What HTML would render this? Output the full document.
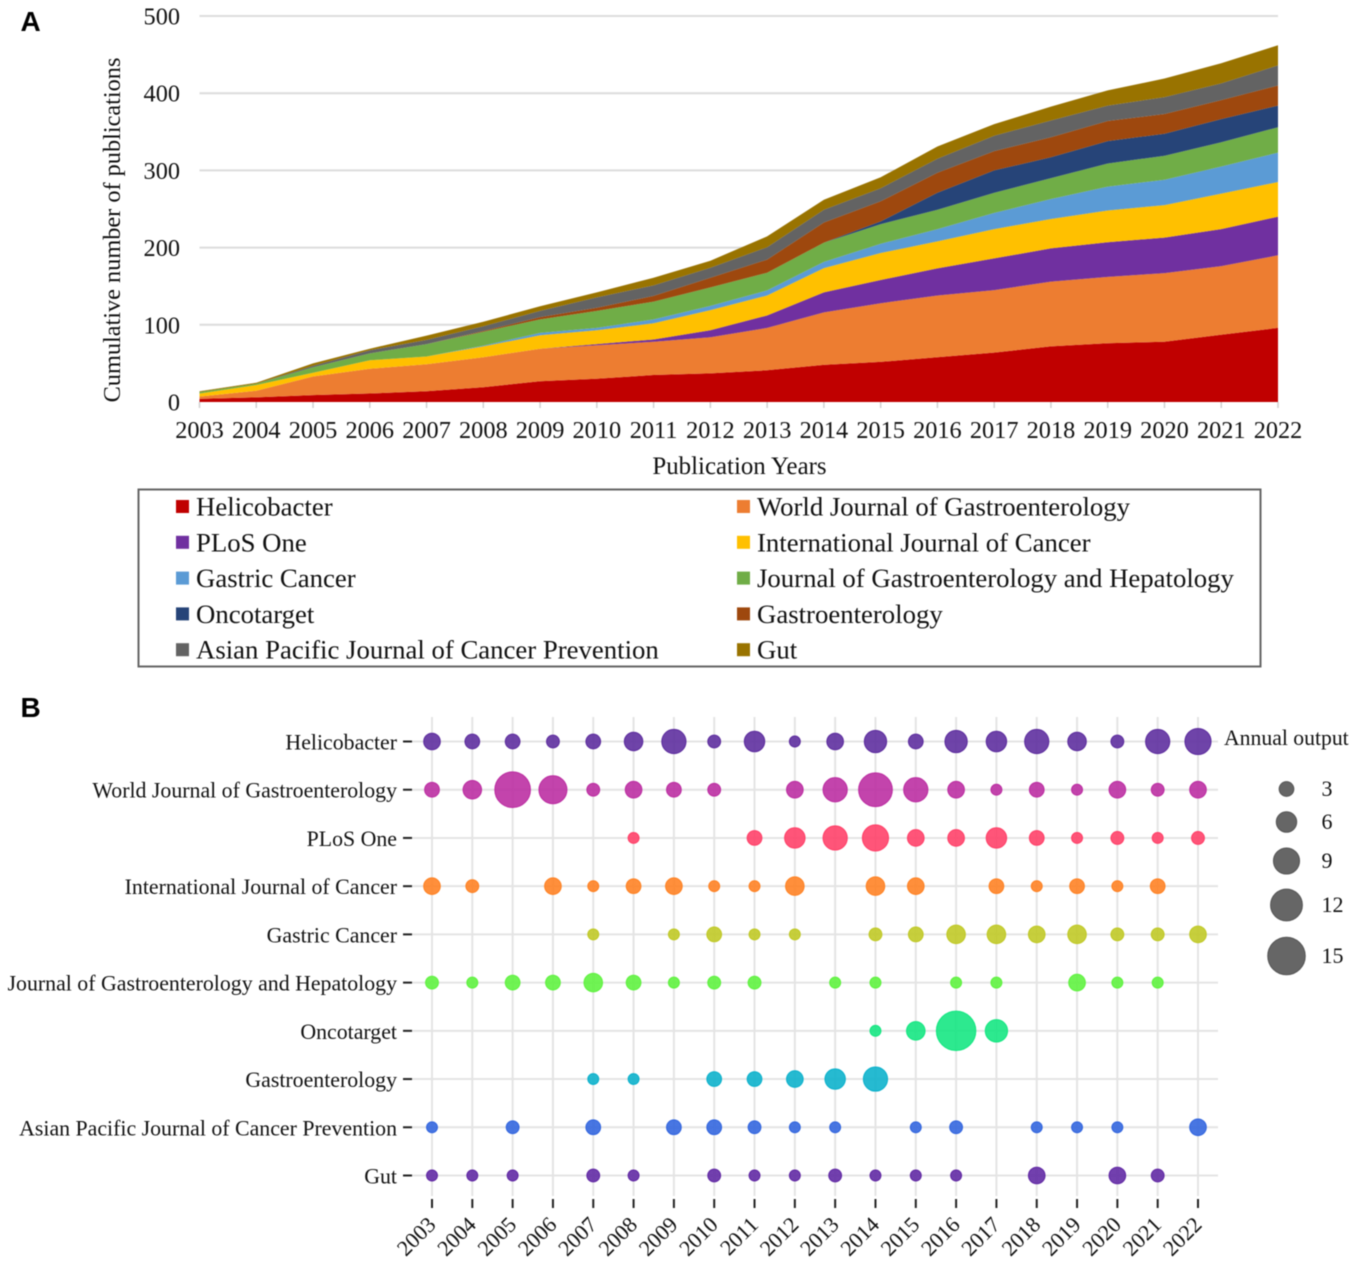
<!DOCTYPE html>
<html lang="en">
<head>
<meta charset="utf-8">
<title>Publications by journal</title>
<style>
html,body{margin:0;padding:0;background:#fff;overflow:hidden;}
svg{display:block;filter:blur(0.45px);}
text{font-family:"Liberation Serif",serif;fill:#111;}
.panel{font-family:"Liberation Sans",sans-serif;font-weight:bold;font-size:28px;fill:#000;}
</style>
</head>
<body>
<svg id="figure" width="1358" height="1266" viewBox="0 0 1358 1266" xmlns="http://www.w3.org/2000/svg">
  <text class="panel" x="20.5" y="31">A</text>
  <text class="panel" x="20.5" y="717">B</text>
  <text font-size="24.3" text-anchor="middle" transform="translate(120,230) rotate(-90)">Cumulative number of publications</text>
  <text font-size="24.9" text-anchor="middle" x="739.5" y="474">Publication Years</text>
  <rect x="138.5" y="489.5" width="1122" height="177" fill="#fff" stroke="#666" stroke-width="2"/>
  <text font-size="21.7" x="1224" y="745">Annual output</text>
  <g id="area-grid"></g>
  <g id="areas"></g>
  <g id="area-axis"></g>
  <g id="area-legend"></g>
  <g id="bubble-grid"></g>
  <g id="bubble-axis"></g>
  <g id="bubbles"></g>
  <g id="size-legend"></g>
</svg>
<script>
const years = [2003,2004,2005,2006,2007,2008,2009,2010,2011,2012,2013,2014,2015,2016,2017,2018,2019,2020,2021,2022];
const journals = ["Helicobacter","World Journal of Gastroenterology","PLoS One","International Journal of Cancer","Gastric Cancer","Journal of Gastroenterology and Hepatology","Oncotarget","Gastroenterology","Asian Pacific Journal of Cancer Prevention","Gut"];
const yTicks = [0,100,200,300,400,500];
const sizeLegendValues = [3,6,9,12,15];

/* Panel A: cumulative publications per journal */
const cumHelicobacter = [4,6,9,11,14,19,27,30,35,37,41,48,52,58,64,72,76,78,87,96];
const cumWJG = [3,8.5,24,32,35,39,42,43.5,43,47,55,68,76,80,81,84,86,89,89,94];
const cumPLoS = [0,0,0,0,0,0,0,1.5,3,9,16,26,30,35,41,43,45,46,48,50];
const cumIJC = [4,7.5,5,11,10,14,17.5,18,21,26,26,31.5,35,35,38,38,41,42,46,45];
const cumGastricCancer = [0,0,0,0,0,1,3,3,5,5.5,6.5,8,12,16,21,26,31,33,35,38];
const cumJGH = [2,1.6,7,9,16,18,17.5,22,23,24,23,25,25.5,25,26,27,30,31,31.5,33];
const cumOncotarget = [0,0,0,0,0,0,0,0,0,0,0,0,3.5,22,29,27,29,28.5,30,28];
const cumGastroenterology = [0,0,0,0,0,1,3,4,7.5,12.5,17,26,26,26,25,26,26,25.5,24.6,26];
const cumAPJCP = [0,0,2,4,5.5,6,8,13.5,13.5,13,16,16.4,17,18,20,21.6,20,22,21.6,26];
const cumGut = [1,1.4,3,2,5.5,6,6,6.5,10,9,14,13,14,16,15,18,19.6,24,26,26];
const cumulativeSeries = [cumHelicobacter,cumWJG,cumPLoS,cumIJC,cumGastricCancer,cumJGH,cumOncotarget,cumGastroenterology,cumAPJCP,cumGut];
const areaColors = ["#c00000","#ed7d31","#7030a0","#ffc000","#5b9bd5","#70ad47","#264478","#9e480e","#636363","#997300"];

/* Panel B: annual output per journal */
const annHelicobacter = [4,3,3,2,3,5,8,2,6,1,4,7,3,7,6,8,5,2,8,9];
const annWJG = [3,5,14,10,2,4,3,2,0,4,8,13,8,4,1,3,1,4,2,4];
const annPLoS = [0,0,0,0,0,1,0,0,3,6,8,9,4,4,6,3,1,2,1,2];
const annIJC = [4,2,0,4,1,3,4,1,1,5,0,5,4,0,3,1,3,1,3,0];
const annGastricCancer = [0,0,0,0,1,0,1,3,1,1,0,2,3,5,5,4,5,2,2,4];
const annJGH = [2,1,3,3,5,3,1,2,2,0,1,1,0,1,1,0,4,1,1,0];
const annOncotarget = [0,0,0,0,0,0,0,0,0,0,0,1,5,16,7,0,0,0,0,0];
const annGastroenterology = [0,0,0,0,1,1,0,3,3,4,6,8,0,0,0,0,0,0,0,0];
const annAPJCP = [1,0,2,0,3,0,3,3,2,1,1,0,1,2,0,1,1,1,0,4];
const annGut = [1,1,1,0,2,1,0,2,1,1,2,1,1,1,0,4,0,4,2,0];
const annualSeries = [annHelicobacter,annWJG,annPLoS,annIJC,annGastricCancer,annJGH,annOncotarget,annGastroenterology,annAPJCP,annGut];
const bubbleFills = ["#5b2a9d","#bb2aa0","#ff3d66","#ff8020","#bfc822","#5cf23c","#10e67f","#08b0cb","#2f63de","#5f25a3"];

const NS = "http://www.w3.org/2000/svg";
const xA = i => 199.5 + i * (1278 - 199.5) / (years.length - 1);
const yA = v => 402 - v * 0.772;
const xB = i => 432 + i * (1198 - 432) / (years.length - 1);
const yB = i => 741.5 + i * (1175.5 - 741.5) / (journals.length - 1);
const radius = v => 4.5 + 0.95 * v;

function make(tag, parentId, attrs, content) {
  const el = document.createElementNS(NS, tag);
  for (const k in attrs) el.setAttribute(k, attrs[k]);
  if (content !== undefined) el.textContent = content;
  document.getElementById(parentId).appendChild(el);
  return el;
}

/* Panel A gridlines and axis */
yTicks.forEach(t => {
  if (t > 0) {
    const g = make("line", "area-grid", {x1:199.5, x2:1278, y1:yA(t), y2:yA(t), stroke:"#dcdcdc", "stroke-width":2});
    
    
  }
  const l = make("text", "area-axis", {x:180, y:yA(t)+8.5, "text-anchor":"end", "font-size":24.3}, String(t));
  
  
});
years.forEach((yr, i) => {
  const tk = make("line", "area-axis", {x1:xA(i), x2:xA(i), y1:402, y2:408, stroke:"#d0d0d0", "stroke-width":1.5});
  
  
  const l = make("text", "area-axis", {x:xA(i), y:438, "text-anchor":"middle", "font-size":24.3}, String(yr));
  
  
});

/* Panel A stacked areas */
const baseline = years.map(() => 0);
cumulativeSeries.forEach((series, s) => {
  const top = series.map((v, i) => baseline[i] + v);
  const upper = top.map((v, i) => xA(i).toFixed(1) + "," + yA(v).toFixed(1));
  const lower = baseline.map((v, i) => xA(i).toFixed(1) + "," + yA(v).toFixed(1)).reverse();
  const p = make("polygon", "areas", {points: upper.concat(lower).join(" "), fill: areaColors[s]});
  
  
  top.forEach((v, i) => { baseline[i] = v; });
});

/* Panel A legend */
journals.forEach((name, s) => {
  const col = s % 2, row = Math.floor(s / 2);
  const cy = 506.5 + row * 35.8;
  const sw = make("rect", "area-legend", {x: col ? 737 : 176, y: cy - 6.5, width: 13, height: 13, fill: areaColors[s]});
  
  
  const t = make("text", "area-legend", {x: col ? 757 : 196, y: cy + 9, "font-size": 26.75}, name);
  
  
});

/* Panel B grid and axes */
journals.forEach((name, r) => {
  const g = make("line", "bubble-grid", {x1:412, x2:1218, y1:yB(r), y2:yB(r), stroke:"#e4e4e4", "stroke-width":2});
  
  
  const tk = make("line", "bubble-axis", {x1:403, x2:412, y1:yB(r), y2:yB(r), stroke:"#222", "stroke-width":2});
  
  
  const l = make("text", "bubble-axis", {x:397, y:yB(r)+8, "text-anchor":"end", "font-size":21.85}, name);
  
  
});
years.forEach((yr, i) => {
  const g = make("line", "bubble-grid", {x1:xB(i), x2:xB(i), y1:717, y2:1196, stroke:"#e4e4e4", "stroke-width":2});
  
  
  const tk = make("line", "bubble-axis", {x1:xB(i), x2:xB(i), y1:1199, y2:1208, stroke:"#222", "stroke-width":2});
  
  
  const l = make("text", "bubble-axis", {"text-anchor":"end", "font-size":22, transform:"translate(" + (xB(i)+5) + ",1226) rotate(-45)"}, String(yr));
  
  
});

/* Panel B bubbles */
annualSeries.forEach((series, r) => {
  series.forEach((v, i) => {
    if (!v) return;
    const c = make("circle", "bubbles", {cx:xB(i), cy:yB(r), r:radius(v), fill:bubbleFills[r], "fill-opacity":0.88, stroke:bubbleFills[r], "stroke-width":1});
    
    
  });
});

/* Panel B size legend */
const sizeLegendRows = [789, 822, 861, 905, 956];
sizeLegendValues.forEach((v, k) => {
  const c = make("circle", "size-legend", {cx:1286.5, cy:sizeLegendRows[k], r:radius(v), fill:"#666", stroke:"#555", "stroke-width":1});
  
  
  const t = make("text", "size-legend", {x:1321.5, y:sizeLegendRows[k]+7, "font-size":22}, String(v));
  
  
});
</script>
</body>
</html>
